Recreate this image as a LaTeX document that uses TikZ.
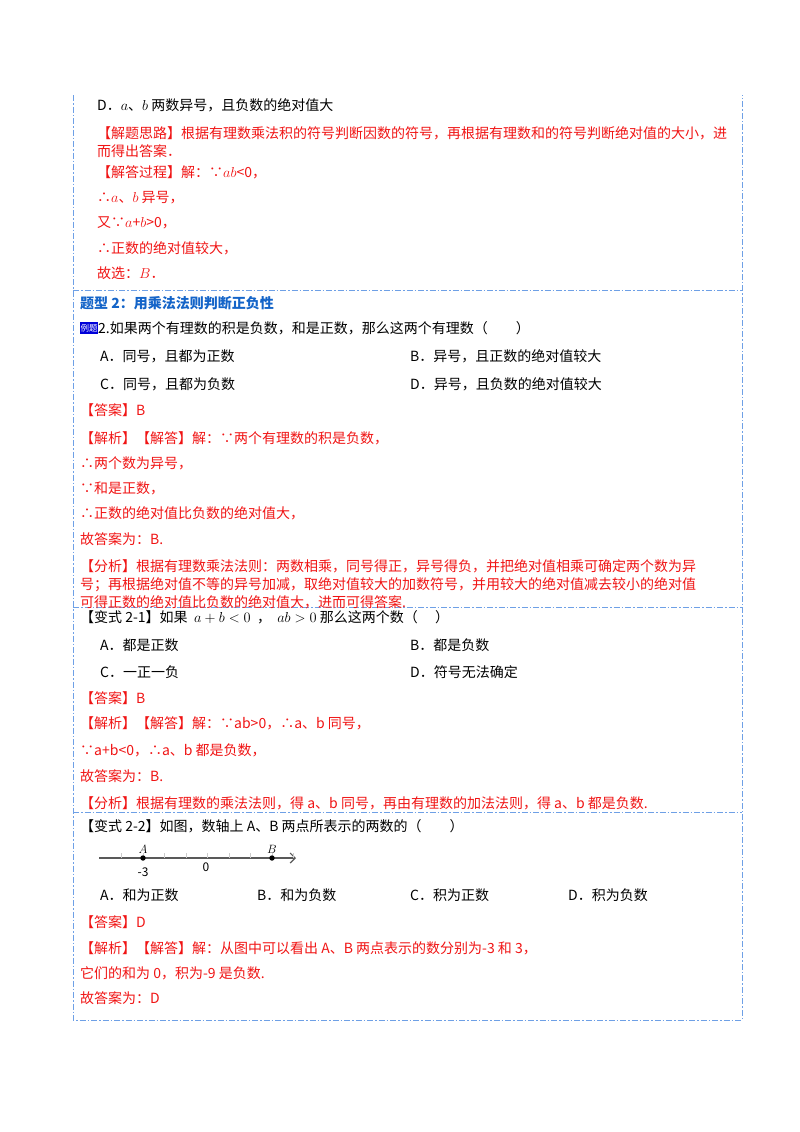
\documentclass[tikz,border=0pt]{standalone}
\usepackage{fontspec}
\setmainfont{Noto Sans CJK SC}
\usepackage{amsmath}
\usetikzlibrary{arrows.meta}
\definecolor{rd}{RGB}{240,20,20}
\definecolor{fr}{RGB}{110,160,230}
\definecolor{hb}{RGB}{20,100,200}
\tikzset{
 txt/.style={anchor=west,inner sep=0pt,font=\fontsize{14}{15}\selectfont},
 red/.style={txt,text=rd},
 frame/.style={draw=fr,line width=0.9pt,dash pattern=on 6pt off 2pt on 1.5pt off 2pt},
}
\newcommand\tx[5][txt]{\node[#1] (#2) at (#3,#4) {#5};}
\begin{document}
\begin{tikzpicture}[x=1pt,y=-1pt]
\useasboundingbox (0,0) rectangle (800,1132);
% frame
\draw[frame] (73,95) -- (73,1020) -- (742,1020) -- (742,95);
\draw[frame] (73,290) -- (742,290);
\draw[frame] (73,607) -- (742,607);
\draw[frame] (73,812) -- (742,812);
% block 1
\tx{d1}{97}{105}{D．$a$、$b$ 两数异号，且负数的绝对值大}
\tx[red]{r1}{97}{133}{【解题思路】根据有理数乘法积的符号判断因数的符号，再根据有理数和的符号判断绝对值的大小，进}
\tx[red]{r2}{97}{151}{而得出答案．}
\tx[red]{r3}{97}{172}{【解答过程】解：∵$ab$<0，}
\tx[red]{r4}{97}{198}{∴$a$、$b$ 异号，}
\tx[red]{r5}{97}{223}{又∵$a$+$b$>0，}
\tx[red]{r6}{97}{248}{∴正数的绝对值较大，}
\tx[red]{r7}{97}{273}{故选：$B$．}
% block 2
\node[txt,text=hb,font=\fontsize{14}{15}\selectfont\bfseries] (h) at (80,303) {题型 2：用乘法法则判断正负性};
\node[anchor=west,fill=blue!85!black,text=white,inner xsep=0.5pt,inner ysep=2pt,font=\fontsize{8.5}{9}\selectfont] (ex) at (80,328) {例题};
\tx{q2}{98}{328}{2.如果两个有理数的积是负数，和是正数，那么这两个有理数（\quad\quad）}
\tx{oa}{100}{356}{A．同号，且都为正数}
\tx{ob}{410}{356}{B．异号，且正数的绝对值较大}
\tx{oc}{100}{384}{C．同号，且都为负数}
\tx{od}{410}{384}{D．异号，且负数的绝对值较大}
\tx[red]{a2}{80}{410}{【答案】B}
\tx[red]{j1}{80}{438}{【解析】【解答】解：∵两个有理数的积是负数，}
\tx[red]{j2}{80}{463}{∴两个数为异号，}
\tx[red]{j3}{80}{488}{∵和是正数，}
\tx[red]{j4}{80}{513}{∴正数的绝对值比负数的绝对值大，}
\tx[red]{j5}{80}{539}{故答案为：B.}
\tx[red]{f1}{80}{566}{【分析】根据有理数乘法法则：两数相乘，同号得正，异号得负，并把绝对值相乘可确定两个数为异}
\tx[red]{f2}{80}{585}{号；再根据绝对值不等的异号加减，取绝对值较大的加数符号，并用较大的绝对值减去较小的绝对值}
\tx[red]{f3}{80}{602}{可得正数的绝对值比负数的绝对值大，进而可得答案.}
% block 3
\tx{v1}{80}{617}{【变式 2-1】如果\ \ $a+b<0$\ \ ，\ \ $ab>0$\ 那么这两个数（\quad\ ）}
\tx{va}{100}{645}{A．都是正数}
\tx{vb}{410}{645}{B．都是负数}
\tx{vc}{100}{672}{C．一正一负}
\tx{vd}{410}{672}{D．符号无法确定}
\tx[red]{va2}{80}{698}{【答案】B}
\tx[red]{vj1}{80}{723}{【解析】【解答】解：∵ab>0，∴a、b 同号，}
\tx[red]{vj2}{80}{750}{∵a+b<0，∴a、b 都是负数，}
\tx[red]{vj3}{80}{776}{故答案为：B.}
\tx[red]{vf}{80}{803}{【分析】根据有理数的乘法法则，得 a、b 同号，再由有理数的加法法则，得 a、b 都是负数.}
% block 4
\tx{w1}{80}{826}{【变式 2-2】如图，数轴上 A、B 两点所表示的两数的（\quad\quad）}
\coordinate (ls) at (99,858);
\coordinate (le) at (296,858);
\draw[gray!70!black,line width=1.2pt,-{Straight Barb[length=5pt]}] (ls) -- (le);
\foreach \i in {-4,...,4} \draw[gray!40] (207.5+21.5*\i,858) -- ++(0,-5);
\fill (143,858) circle (2.7pt) node[above=1pt,font=\fontsize{12}{13}\selectfont] (pa) {$A$};
\fill (272,858) circle (2.7pt) node[above=1pt,font=\fontsize{12}{13}\selectfont] (pb) {$B$};
\node[font=\fontsize{12}{13}\selectfont] (m3) at (143,872) {-3};
\node[font=\fontsize{12}{13}\selectfont] (z0) at (206,867) {0};
\tx{wa}{100}{895}{A．和为正数}
\tx{wb}{257}{895}{B．和为负数}
\tx{wc}{410}{895}{C．积为正数}
\tx{wd}{568}{895}{D．积为负数}
\tx[red]{wa2}{80}{922}{【答案】D}
\tx[red]{wj1}{80}{948}{【解析】【解答】解：从图中可以看出 A、B 两点表示的数分别为-3 和 3，}
\tx[red]{wj2}{80}{973}{它们的和为 0，积为-9 是负数.}
\tx[red]{wj3}{80}{998}{故答案为：D}
\end{tikzpicture}
\end{document}
